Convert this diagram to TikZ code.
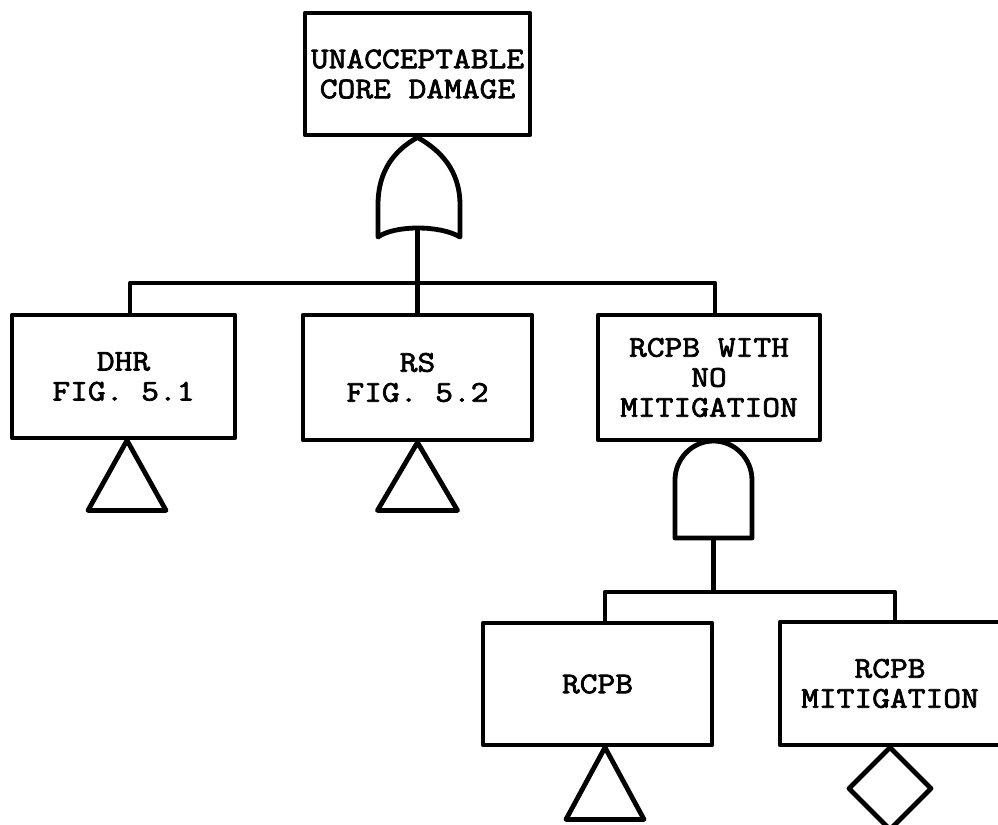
\documentclass[tikz,border=0pt]{standalone}
\usepackage{fontspec}
\newfontfamily\boxfont{Latin Modern Mono}[FakeBold=2.5, FakeStretch=1.15]
\begin{document}
\begin{tikzpicture}[x=0.5pt,y=-0.5pt,
  line width=2.4pt, line join=round,
  evbox/.style={draw, rectangle, line width=2.4pt, align=center, inner sep=0pt,
    font=\boxfont\fontsize{15}{15}\selectfont},
  gate/.style={draw, line width=2.4pt, line join=round},
  link/.style={draw, line width=2.4pt}
  ]
\useasboundingbox (0,0) rectangle (998,825);

% event boxes
\node[evbox, minimum width=112.5pt, minimum height=61pt] (top) at (417.5,74) {UNACCEPTABLE\\CORE DAMAGE};
\node[evbox, minimum width=111.5pt, minimum height=61.5pt] (dhr) at (123.5,376.5) {DHR\\FIG. 5.1};
\node[evbox, minimum width=114.5pt, minimum height=62.5pt] (rs) at (417.5,377.5) {RS\\FIG. 5.2};
\node[evbox, minimum width=111pt, minimum height=62.5pt] (rcpbw) at (709,377.5) {RCPB WITH\\NO\\MITIGATION};
\node[evbox, minimum width=114.5pt, minimum height=61pt] (rcpb) at (597.5,684) {RCPB};
\node[evbox, minimum width=110pt, minimum height=61.5pt] (mitig) at (890,683.5) {RCPB\\MITIGATION};

% OR gate
\coordinate (orin) at (417.5,228);
\path[gate] (top.south) .. controls (440,150) and (460,170) .. (460,205) -- (460,237)
  .. controls (440,225) and (395,225) .. (378,237) -- (378,205)
  .. controls (378,170) and (395,150) .. (top.south) -- cycle;

% AND gate
\coordinate (andin) at (713.5,538);
\path[gate] (675,538) -- (675,480) .. controls (675,459) and (692,441) .. (713.5,441)
  .. controls (735,441) and (752,459) .. (752,480) -- (752,538) -- cycle;

% bus 1
\coordinate (bus1) at (417.5,283);
\coordinate (dhrin) at ([xshift=3.25pt]dhr.north);
\coordinate (rcpbwin) at ([xshift=3pt]rcpbw.north);
\path[link] (orin) -- (rs.north);
\path[link] (dhrin) |- (bus1) -| (rcpbwin);

% bus 2
\coordinate (bus2) at (713.5,592);
\coordinate (rcpbin) at ([xshift=3.75pt]rcpb.north);
\coordinate (mitigin) at ([xshift=2.5pt]mitig.north);
\path[link] (andin) -- (bus2);
\path[link] (rcpbin) |- (bus2) -| (mitigin);

% transfer triangles and undeveloped diamond
\path[gate] ([xshift=1.75pt]dhr.south) -- ++(-39,70) -- ++(78,0) -- cycle;
\path[gate] (rs.south) -- ++(-40,68) -- ++(80,0) -- cycle;
\path[gate] ([xshift=3.75pt]rcpb.south) -- ++(-39,72) -- ++(78,0) -- cycle;
\path[gate] (mitig.south) -- ++(41,41) -- ++(-41,41) -- ++(-41,-41) -- cycle;
\end{tikzpicture}
\end{document}
